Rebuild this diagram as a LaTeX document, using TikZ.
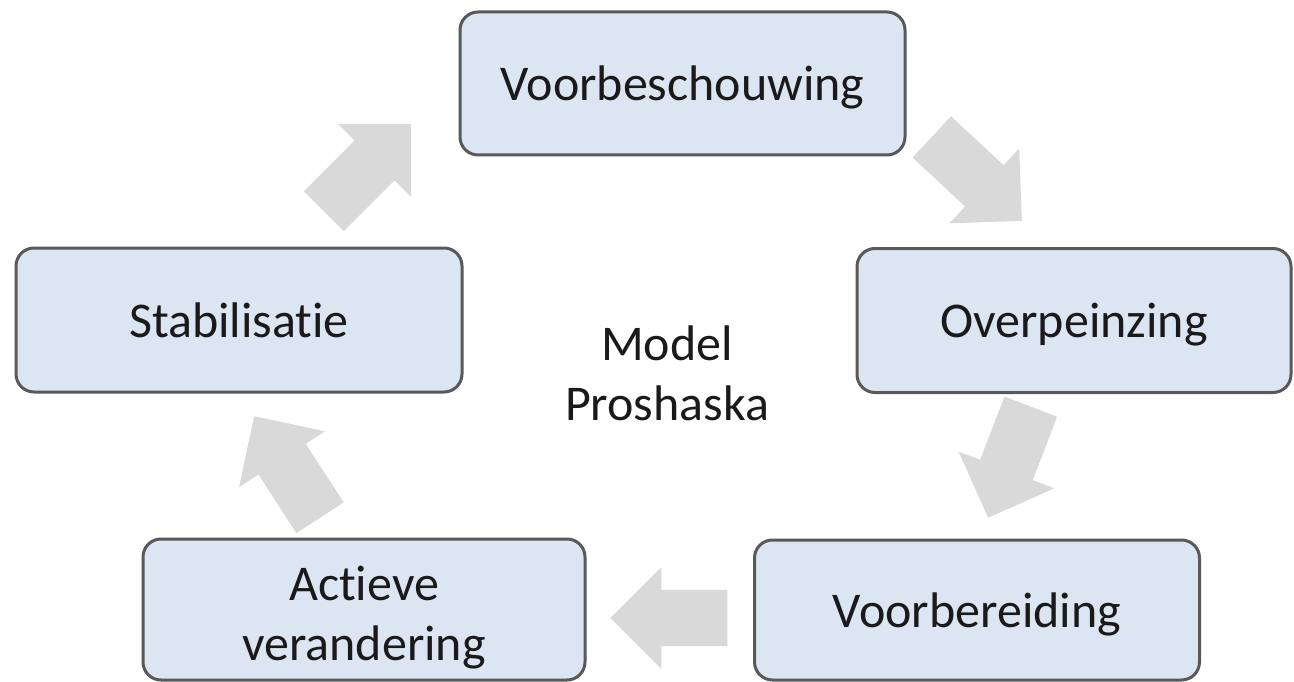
\documentclass[tikz,border=0pt]{standalone}
\usepackage{fontspec}
\setmainfont{Carlito}[Ligatures=NoCommon]
\usetikzlibrary{shapes.arrows}
\definecolor{boxfill}{HTML}{DCE6F2}
\definecolor{boxline}{HTML}{595959}
\definecolor{arrfill}{HTML}{D9D9D9}
\definecolor{txt}{HTML}{1A1A1A}
\tikzset{
  stagebox/.style={draw=boxline, line width=3pt, fill=boxfill, rounded corners=18pt,
    align=center, text=txt, font=\fontsize{50}{60}\selectfont, inner sep=0pt},
  oneline/.style={text height=34pt, text depth=0pt},
  blockarrow/.style={single arrow, fill=arrfill, draw=none, inner xsep=0pt,
    inner ysep=28pt, single arrow head extend=23pt, single arrow tip angle=90, anchor=tip},
  centertext/.style={align=center, text=txt, font=\fontsize{50}{60}\selectfont, inner sep=0pt}
}
\begin{document}
\begin{tikzpicture}[x=1pt, y=-1pt]
\useasboundingbox[fill=white] (0,0) rectangle (1294,682);
% stages
\node[stagebox, oneline, minimum width=445pt, minimum height=143pt] (vb) at (682.5,83.5) {Voorbeschouwing};
\node[stagebox, oneline, minimum width=434pt, minimum height=144pt] (ov) at (1074,320.5) {Overpeinzing};
\node[stagebox, oneline, minimum width=445pt, minimum height=140pt] (vr) at (977,610) {Voorbereiding};
\node[stagebox, minimum width=442pt, minimum height=141pt] (ac) at (364,609.5) {\rule{0pt}{51pt}Actieve\\verandering};
\node[stagebox, oneline, minimum width=446pt, minimum height=144pt] (st) at (239,320) {Stabilisatie};
% centre label
\node[centertext] (model) at (667,373) {Model\\Proshaska};
% cycle arrows (placed by their tips)
\node[blockarrow, minimum height=123pt, rotate=-43] (a1) at (1022,221) {};
\node[blockarrow, minimum height=119pt, rotate=-111] (a2) at (988,518) {};
\node[blockarrow, minimum height=117pt, rotate=180] (a3) at (610,618) {};
\node[blockarrow, minimum height=121pt, rotate=123] (a4) at (254,416) {};
\node[blockarrow, minimum height=123pt, rotate=45] (a5) at (411,124) {};
\end{tikzpicture}
\end{document}
